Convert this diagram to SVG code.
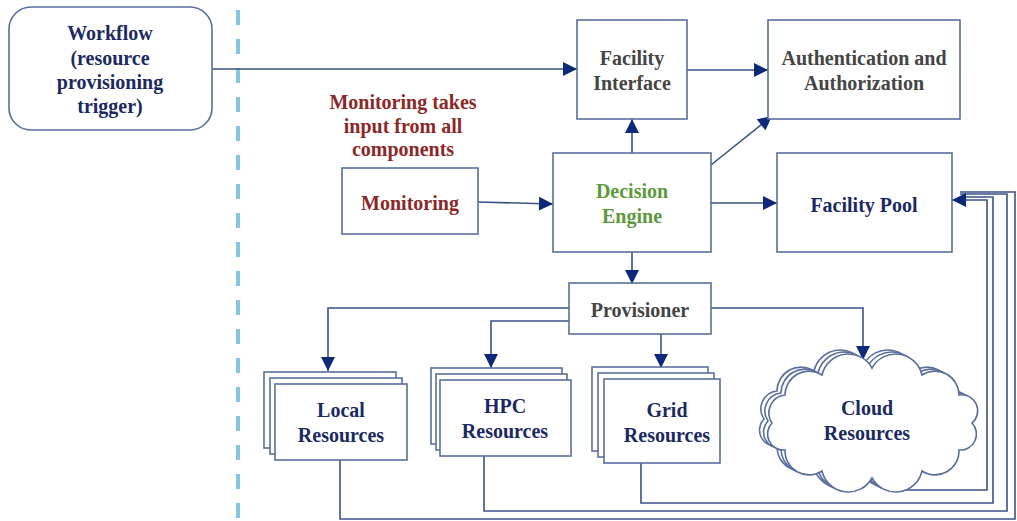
<svg xmlns="http://www.w3.org/2000/svg" width="1017" height="521" viewBox="0 0 1017 521">
<style>
.box{fill:#fff;stroke:#5a6f9e;stroke-width:1.6}
.t{font-family:"Liberation Serif","Times New Roman",serif;font-weight:bold;font-size:20px;text-anchor:middle}
.navy{fill:#1c2a62}
.gray{fill:#454545}
.green{fill:#5c9a3c}
.red{fill:#8c2828}
.ln{fill:none;stroke:#3a5288;stroke-width:1.6}
</style>
<defs>
<marker id="ah" markerUnits="userSpaceOnUse" markerWidth="16" markerHeight="16" viewBox="0 0 16 16" refX="15" refY="8" orient="auto">
<path d="M1,1 L15,8 L1,15 Z" fill="#0d2a78"/>
</marker>
<path id="cloud" d="M772,423 A18,18 0 0 1 785,395 A24,24 0 0 1 822,375 A27,27 0 0 1 872,368 A27,27 0 0 1 922,375 A24,24 0 0 1 959,395 A16,16 0 0 1 972,423 A16,16 0 0 1 959,450 A24,24 0 0 1 922,471 A27,27 0 0 1 872,478 A27,27 0 0 1 822,471 A24,24 0 0 1 785,450 A16,16 0 0 1 772,423 Z"/>
</defs>
<rect width="1017" height="521" fill="#fff"/>
<line x1="238" y1="10" x2="238" y2="521" stroke="#86c5dd" stroke-width="4" stroke-dasharray="15 14"/>

<g id="connectors">
<path class="ln" d="M212,69 H577" marker-end="url(#ah)"/>
<path class="ln" d="M687,70 H768" marker-end="url(#ah)"/>
<path class="ln" d="M632,153 V119" marker-end="url(#ah)"/>
<path class="ln" d="M711,165 L772,116" marker-end="url(#ah)"/>
<path class="ln" d="M711,203 H777" marker-end="url(#ah)"/>
<path class="ln" d="M478,202 L553,204" marker-end="url(#ah)"/>
<path class="ln" d="M632,252 V284" marker-end="url(#ah)"/>
<path class="ln" d="M569,308 H328 V371" marker-end="url(#ah)"/>
<path class="ln" d="M569,321 H491 V368" marker-end="url(#ah)"/>
<path class="ln" d="M661,334 V368" marker-end="url(#ah)"/>
<path class="ln" d="M711,308 H863 V360" marker-end="url(#ah)"/>
<path class="ln" d="M340,460 V519 H1015 V192 H960"/>
<path class="ln" d="M484,456 V511 H1007 V194 H960"/>
<path class="ln" d="M641,463 V503 H993 V197 H960"/>
<path class="ln" d="M893,484 V490 H987 V200 H952" marker-end="url(#ah)"/>
</g>

<g id="workflow">
<rect class="box" x="9" y="7" width="203" height="123" rx="22"/>
<text class="t navy" x="110" y="40">Workflow</text>
<text class="t navy" x="110" y="65">(resource</text>
<text class="t navy" x="110" y="89">provisioning</text>
<text class="t navy" x="110" y="113">trigger)</text>
</g>

<g id="facility-interface">
<rect class="box" x="577" y="20" width="110" height="99"/>
<text class="t gray" x="632" y="65">Facility</text>
<text class="t gray" x="632" y="90">Interface</text>
</g>

<g id="auth">
<rect class="box" x="768" y="20" width="192" height="99"/>
<text class="t gray" x="864" y="65">Authentication and</text>
<text class="t gray" x="864" y="90">Authorization</text>
</g>

<g id="monitoring-note">
<text class="t red" x="403" y="109">Monitoring takes</text>
<text class="t red" x="403" y="133">input from all</text>
<text class="t red" x="403" y="156">components</text>
</g>

<g id="monitoring">
<rect class="box" x="342" y="168" width="136" height="66"/>
<text class="t red" x="410" y="210">Monitoring</text>
</g>

<g id="decision-engine">
<rect class="box" x="553" y="153" width="158" height="99"/>
<text class="t green" x="632" y="198">Decision</text>
<text class="t green" x="632" y="223">Engine</text>
</g>

<g id="facility-pool">
<rect class="box" x="777" y="153" width="175" height="99"/>
<text class="t navy" x="864" y="212">Facility Pool</text>
</g>

<g id="provisioner">
<rect class="box" x="569" y="283" width="142" height="51"/>
<text class="t gray" x="640" y="317">Provisioner</text>
</g>

<g id="local-resources">
<rect class="box" x="264" y="372" width="132" height="76"/>
<rect class="box" x="270" y="378" width="132" height="76"/>
<rect class="box" x="275" y="384" width="132" height="76"/>
<text class="t navy" x="341" y="417">Local</text>
<text class="t navy" x="341" y="442">Resources</text>
</g>

<g id="hpc-resources">
<rect class="box" x="431" y="368" width="131" height="76"/>
<rect class="box" x="436" y="374" width="131" height="76"/>
<rect class="box" x="440" y="380" width="131" height="76"/>
<text class="t navy" x="505" y="413">HPC</text>
<text class="t navy" x="505" y="438">Resources</text>
</g>

<g id="grid-resources">
<rect class="box" x="592" y="367" width="116" height="84"/>
<rect class="box" x="598" y="373" width="116" height="84"/>
<rect class="box" x="604" y="379" width="116" height="84"/>
<text class="t navy" x="667" y="417">Grid</text>
<text class="t navy" x="667" y="442">Resources</text>
</g>

<g id="cloud-resources">
<use href="#cloud" class="box" transform="translate(-8,-4)"/>
<use href="#cloud" class="box" transform="translate(-4,-2)"/>
<use href="#cloud" class="box"/>
<text class="t navy" x="867" y="415">Cloud</text>
<text class="t navy" x="867" y="440">Resources</text>
</g>
</svg>
